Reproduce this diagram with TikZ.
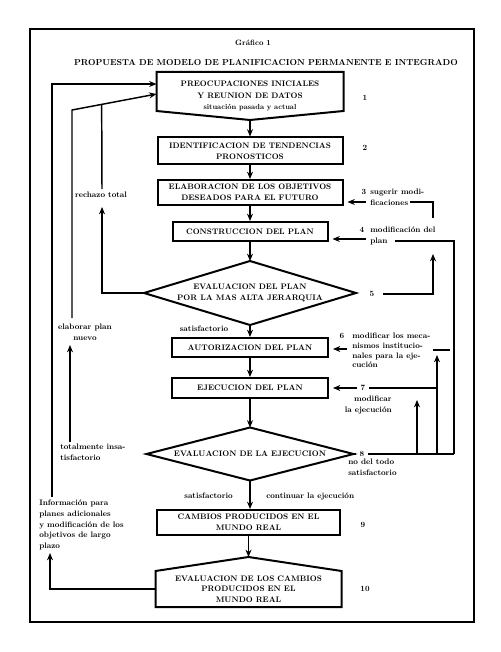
\documentclass[tikz,border=0pt]{standalone}
\usepackage{amsmath}
\usepackage{fontspec}
\setmainfont{lmroman10-regular.otf}[BoldFont=lmroman10-bold.otf]
\usepackage{tikz}
\usetikzlibrary{positioning,calc,arrows.meta}

\begin{document}
\begin{tikzpicture}[x=0.75pt,y=-0.75pt,
  caja/.style={draw=black, line width=1.5pt, inner sep=0pt, align=center,
    font=\fontsize{6}{8}\selectfont\bfseries},
  cajasin/.style={caja, draw=none},
  texto/.style={inner sep=0pt, font=\fontsize{6}{8.2}\selectfont\bfseries},
  numero/.style={inner sep=2.5pt, font=\fontsize{6}{8}\selectfont\bfseries},
  borde/.style={line width=1.5pt, line join=miter},
  linea/.style={line width=1.1pt},
  flecha/.style={line width=1.1pt, -{Stealth[length=5.5pt,width=4.5pt,inset=1.8pt]}}]
\useasboundingbox (0,0) rectangle (500,652);
\draw[line width=1.2pt] (30,29) rectangle (474,622);

% titulos
\node[texto, font=\fontsize{5.8}{7}\selectfont\bfseries] (grafico) at (253,43) {Gráfico 1};
\node[texto, font=\fontsize{6.5}{8}\selectfont\bfseries] (titulo) at (266,63) {PROPUESTA DE MODELO DE PLANIFICACION PERMANENTE E INTEGRADO};

% columna central
\node[cajasin, minimum width=138.75pt, minimum height=27.75pt] (preoc) at (250,91.5) {};
\coordinate (preocpunta) at (250,120);
\draw[borde] (preoc.north west) -- (preoc.north east) -- (preoc.south east) -- (preocpunta) -- (preoc.south west) -- cycle;
\node[texto, align=center, font=\fontsize{6}{8.8}\selectfont\bfseries] (preoctexto) at (250,96)
  {PREOCUPACIONES INICIALES\\Y REUNION DE DATOS\\{\fontsize{5.5}{7}\selectfont situación pasada y actual}};
\node[caja, minimum width=138.75pt, minimum height=20.25pt] (ident) at (250,151) {IDENTIFICACION DE TENDENCIAS\\PRONOSTICOS};
\node[caja, minimum width=138.75pt, minimum height=18.75pt] (elab) at (250,192.5) {ELABORACION DE LOS OBJETIVOS\\DESEADOS PARA EL FUTURO};
\node[caja, minimum width=116.25pt, minimum height=14.25pt] (constr) at (250,231.5) {CONSTRUCCION DEL PLAN};
\node[cajasin, minimum width=157.5pt, minimum height=46.5pt] (evalplan) at (250,293) {EVALUACION DEL PLAN\\POR LA MAS ALTA JERARQUIA};
\draw[borde] (evalplan.west) -- (evalplan.north) -- (evalplan.east) -- (evalplan.south) -- cycle;
\node[caja, minimum width=117pt, minimum height=14.25pt] (autor) at (250,347.5) {AUTORIZACION DEL PLAN};
\node[caja, minimum width=117pt, minimum height=15pt] (ejec) at (250,388) {EJECUCION DEL PLAN};
\node[cajasin, minimum width=153.75pt, minimum height=38.25pt] (evalejec) at (250,454) {EVALUACION DE LA EJECUCION};
\draw[borde] (evalejec.west) -- (evalejec.north) -- (evalejec.east) -- (evalejec.south) -- cycle;
\node[caja, minimum width=137.25pt, minimum height=18.75pt] (cambios) at (248.5,522.5) {CAMBIOS PRODUCIDOS EN EL\\MUNDO REAL};
\node[cajasin, minimum width=138pt, minimum height=25.5pt] (evalcamb) at (248.5,589) {EVALUACION DE LOS CAMBIOS\\PRODUCIDOS EN EL\\MUNDO REAL};
\coordinate (evalcambpunta) at (248.5,557);
\draw[borde] (evalcamb.south west) -- (evalcamb.north west) -- (evalcambpunta) -- (evalcamb.north east) -- (evalcamb.south east) -- cycle;

\draw[flecha] (preocpunta) -- (ident);
\draw[flecha] (ident) -- (elab);
\draw[flecha] (elab) -- (constr);
\draw[flecha] (constr) -- (evalplan.north);
\draw[flecha] (evalplan.south) -- (autor);
\draw[flecha] (autor) -- (ejec);
\draw[flecha] (ejec) -- (evalejec.north);
\draw[flecha] (evalejec.south) -- (evalejec.south |- cambios.north);
\draw[flecha] (cambios) -- (evalcambpunta);

% numeros
\node[numero] (n1) at (365,98) {1};
\node[numero] (n2) at (365,148) {2};
\node[numero] (n3) at (364,192) {3};
\node[numero] (n4) at (362,230) {4};
\node[numero] (n5) at (372,294) {5};
\node[numero] (n6) at (342,336) {6};
\node[numero] (n7) at (363,388) {7};
\node[numero] (n8) at (362,454) {8};
\node[numero] (n9) at (363,525) {9};
\node[numero] (n10) at (365,589) {10};

% lado derecho
\node[texto, anchor=west, align=left] (sugerir) at (370,197) {sugerir modi-\\ficaciones};
\node[texto, anchor=west, align=left] (modplan) at (370,235.5) {modificación del\\plan};
\node[texto, anchor=west, align=left, font=\fontsize{6}{7.3}\selectfont\bfseries] (modmec) at (352,350.5) {modificar los meca-\\nismos institucio-\\nales para la eje-\\cución};
\node[texto, anchor=east, align=right] (modejec) at (392,405) {modificar\\la ejecución};
\node[texto, anchor=west, align=left] (nodelt) at (348,467) {no del todo\\satisfactorio};

\coordinate (bus) at (454,454);
\coordinate (f3) at (366,202);
\coordinate (f3a) at (410,202);
\coordinate (f3b) at (433,218);
\coordinate (f4) at (366,239);
\coordinate (f4a) at (395,241);
\coordinate (f5a) at (383,294);
\coordinate (f5b) at (433,254);
\coordinate (f6) at (347,349);
\coordinate (f6a) at (433,350);
\coordinate (f6b) at (450,350);
\coordinate (f6c) at (437,355);
\coordinate (f8) at (417,400);

\draw[flecha, shorten >=3pt] (f3) -- (f3 -| elab.east);
\draw[linea] (f3a) -| (f3b);
\draw[flecha, shorten >=3pt] (f4) -- (f4 -| constr.east);
\draw[linea] (f4a) -| (bus);
\draw[flecha] (f5a) -| (f5b);
\draw[flecha, shorten >=3pt] (f6) -- (f6 -| autor.east);
\draw[linea] (f6a) -- (f6b);
\draw[flecha] (f6c |- bus) -- (f6c);
\draw[flecha, shorten >=3pt] (n7.west) -- (n7.west -| ejec.east);
\draw[linea] (n7.east) -- (n7.east -| f6c);
\draw[linea] (evalejec.east) -- (n8.west);
\draw[linea] (n8.east) -- (bus);
\draw[flecha] (f8 |- bus) -- (f8);

% lado izquierdo
\node[texto] (rechazo) at (101,195) {rechazo total};
\node[texto, align=center] (elaborar) at (85,332) {elaborar plan\\nuevo};
\node[texto, anchor=west, align=left] (insatisf) at (60,452.5) {totalmente insa-\\tisfactorio};
\node[texto, anchor=west, align=left] (info) at (39,525) {Información para\\planes adicionales\\y modificación de los\\objetivos de largo\\plazo};
\node[texto] (sat1) at (204,329) {satisfactorio};
\node[texto, anchor=east] (sat2) at (233,496) {satisfactorio};
\node[texto, anchor=west] (cont) at (266,496) {continuar la ejecución};

\coordinate (izqA) at (52,497);
\coordinate (izqB) at (72,318);
\coordinate (izqB1) at (72,110);
\coordinate (preocB) at ([yshift=-1.9pt]preoc.west);
\coordinate (juntaC) at ($(izqB1)!0.351!(preocB)$);
\coordinate (izqC) at (102,189);
\coordinate (izqCpunta) at (102,207);
\coordinate (izqD) at (70,442);
\coordinate (izqDpunta) at (70,345);
\coordinate (izqE) at (50,553);

\draw[flecha] (izqA) |- ([yshift=5.6pt]preoc.west);
\draw[flecha] (izqB) -- (izqB1) -- (preocB);
\draw[linea] (izqC) -- (juntaC);
\draw[flecha] (evalplan.west) -| (izqCpunta);
\draw[flecha] (izqD) -- (izqDpunta);
\draw[flecha] (evalcamb.west) -| (izqE);
\end{tikzpicture}
\end{document}
